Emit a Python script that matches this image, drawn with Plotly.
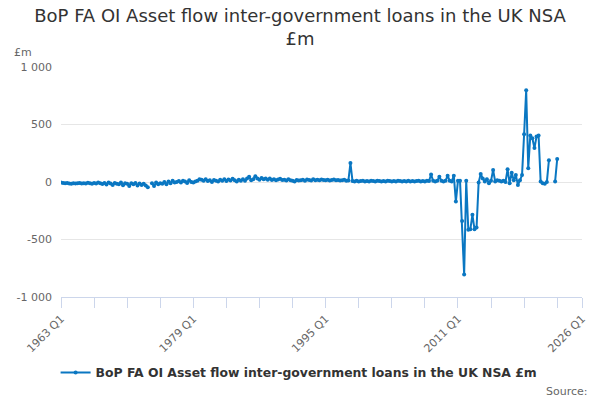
import plotly.graph_objects as go

TITLE = "BoP FA OI Asset flow inter-government loans in the UK NSA £m"
LINE_COLOR = "#0a77c2"
FONT = "DejaVu Sans, Verdana, sans-serif"

# Quarter labels 1963 Q1 .. 2026 Q1
categories = [f"{y} Q{q}" for y in range(1963, 2027) for q in range(1, 5)][:253]

# Values, one row per year (£m)
values = [
    -5, -8, -10, -8,        # 1963
    -12, -15, -10, -12,     # 1964
    -10, -8, -14, -10,      # 1965
    -12, -6, -10, -15,      # 1966
    -8, -12, -5, -10,       # 1967
    -18, -8, -22, -5,       # 1968
    -12, -25, -8, -15,      # 1969
    -20, -5, -28, -10,      # 1970
    -15, -35, -10, -20,     # 1971
    -8, -30, -12, -25,      # 1972
    -15, -30, -45, None,    # 1973
    -10, -35, -5, -20,      # 1974
    -10, -15, 0, -20,       # 1975
    5, -10, 10, -5,         # 1976
    0, 8, -5, 10,           # 1977
    5, -8, 15, 0,           # 1978
    -5, 5, 10, 25,          # 1979
    20, 10, 25, 8,          # 1980
    15, 0, 18, 10,          # 1981
    5, 20, 10, 25,          # 1982
    8, 22, 12, 28,          # 1983
    15, 5, 20, 10,          # 1984
    25, 10, 30, 45,         # 1985
    15, 25, 50, 30,         # 1986
    20, 35, 25, 30,         # 1987
    20, 30, 18, 25,         # 1988
    15, 22, 28, 18,         # 1989
    20, 12, 25, 15,         # 1990
    10, 5, 18, 12,          # 1991
    15, 20, 10, 22,         # 1992
    18, 12, 25, 15,         # 1993
    20, 15, 22, 18,         # 1994
    15, 20, 12, 18,         # 1995
    22, 15, 18, 12,         # 1996
    15, 20, 10, 12,         # 1997
    165, 8, 5, 10,          # 1998
    5, 8, 10, 5,            # 1999
    8, 5, 10, 8,            # 2000
    5, 10, 8, 5,            # 2001
    8, 5, 10, 8,            # 2002
    5, 8, 5, 10,            # 2003
    8, 5, 8, 5,             # 2004
    10, 5, 8, 5,            # 2005
    8, 10, 5, 8,            # 2006
    5, 10, 8, 65,           # 2007
    10, 5, 10, 45,          # 2008
    10, 5, 10, 55,          # 2009
    10, 5, 55, -170,        # 2010
    10, 10, -340, -805,     # 2011
    10, -415, -410, -285,   # 2012
    -410, -395, -5, 70,     # 2013
    30, 5, 25, -10,         # 2014
    10, 105, 5, 15,         # 2015
    10, 5, 10, 0,           # 2016
    110, -10, 80, 15,       # 2017
    60, -25, 15, 60,        # 2018
    415, 797, 120, 405,     # 2019
    380, 295, 395, 405,     # 2020
    5, -10, -15, 0,         # 2021
    190, None, None, 5,     # 2022
    200, None, None, None,  # 2023
    None, None, None, None, # 2024
    None, None, None, None, # 2025
    None,                   # 2026
]

y_ticks = [-1000, -500, 0, 500, 1000]
y_tick_labels = ["-1 000", "-500", "0", "500", "1 000"]

# Tick marks every 4 years, labels every 16 years plus the last quarter
x_ticks = categories[::16] + [categories[-1]]
x_tick_labels = [c if i % 4 == 0 else "" for i, c in enumerate(categories[::16])] + [categories[-1]]

fig = go.Figure(
    go.Scatter(
        x=categories,
        y=values,
        mode="lines+markers",
        name=f"<b>{TITLE}</b>",
        line={"color": LINE_COLOR, "width": 2},
        marker={"color": LINE_COLOR, "size": 4},
        connectgaps=False,
    )
)

fig.update_layout(
    width=600,
    height=400,
    paper_bgcolor="white",
    plot_bgcolor="white",
    font={"family": FONT, "color": "#666666", "size": 11},
    margin={"l": 61, "r": 16, "t": 67, "b": 102, "pad": 0},
    title={
        "text": "BoP FA OI Asset flow inter-government loans in the UK NSA<br>£m",
        "x": 0.5,
        "xanchor": "center",
        "y": 0.945,
        "yanchor": "top",
        "font": {"size": 18, "color": "#333333", "family": FONT},
    },
    showlegend=True,
    legend={
        "orientation": "h",
        "x": 0.457,
        "xanchor": "center",
        "y": -0.33,
        "yanchor": "middle",
        "font": {"size": 12.4, "color": "#333333", "family": FONT},
        "bgcolor": "rgba(0,0,0,0)",
    },
    annotations=[
        {
            "text": "£m",
            "xref": "paper",
            "yref": "paper",
            "x": -0.094,
            "y": 1.065,
            "xanchor": "left",
            "yanchor": "middle",
            "showarrow": False,
            "font": {"size": 11, "color": "#666666"},
        },
        {
            "text": "Source:",
            "xref": "paper",
            "yref": "paper",
            "x": 1.016,
            "y": -0.41,
            "xanchor": "right",
            "yanchor": "middle",
            "showarrow": False,
            "font": {"size": 11, "color": "#666666"},
        },
    ],
)

fig.update_xaxes(
    type="category",
    range=[0, len(categories) - 1],
    tickmode="array",
    tickvals=x_ticks,
    ticktext=x_tick_labels,
    tickangle=-45,
    ticks="outside",
    ticklen=10,
    tickcolor="#ccd6eb",
    showline=True,
    linecolor="#ccd6eb",
    linewidth=1,
    showgrid=False,
    zeroline=False,
    tickfont={"size": 11, "color": "#666666"},
)

fig.update_yaxes(
    range=[-1000, 1000],
    tickmode="array",
    tickvals=y_ticks,
    ticktext=y_tick_labels,
    showgrid=True,
    gridcolor="#e6e6e6",
    zeroline=False,
    showline=False,
    ticks="",
    ticklabelstandoff=8,
    tickfont={"size": 11, "color": "#666666"},
)

# drop the page's default body margin so the 600x400 figure sits at the corner
fig.write_html(
    "out.html",
    config={"displayModeBar": False},
    post_script="document.body.style.margin='0';",
)
